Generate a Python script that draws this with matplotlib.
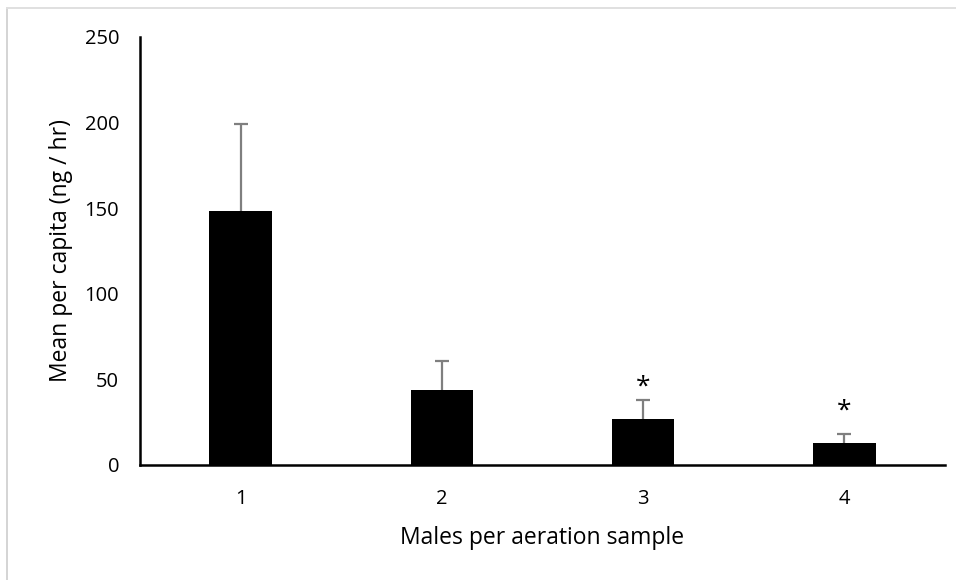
import matplotlib.pyplot as plt
from matplotlib.lines import Line2D

categories = ["1", "2", "3", "4"]
means = [148.5, 44, 27, 13]
upper_err = [50.5, 16.5, 11, 5]
stars = ["", "", "*", "*"]
star_heights = [0, 0, 45.5, 31.5]

plt.rcParams['font.family'] = ['Open Sans', 'DejaVu Sans']

fig = plt.figure(figsize=(9.56, 5.8), dpi=100)
ax = fig.add_axes([140/956, 115/580, 805/956, 428/580])

x = list(range(1, len(categories) + 1))
ax.bar(x, means, width=0.31, color="black", zorder=2)
_, caps, _ = ax.errorbar(x, means, yerr=[[0]*len(means), upper_err], fmt="none",
                         ecolor="#7f7f7f", elinewidth=1.6, capsize=4.7,
                         capthick=1.6, zorder=1)
caps[0].set_visible(False)  # no cap at the bar top

for xi, h, s in zip(x, star_heights, stars):
    if s:
        ax.text(xi, h, s, ha="center", va="center", fontsize=19)

ax.set_xlim(0.5, 4.5)
ax.set_ylim(0, 250)
ax.set_yticks([0, 50, 100, 150, 200, 250])
ax.set_xticks(x)
ax.set_xticklabels(categories)
ax.tick_params(axis="both", length=0, labelsize=14.5)
ax.tick_params(axis="y", pad=15)
ax.tick_params(axis="x", pad=17)
for sp in ["top", "right"]:
    ax.spines[sp].set_visible(False)
for sp in ["left", "bottom"]:
    ax.spines[sp].set_linewidth(1.8)

ax.set_xlabel("Males per aeration sample", fontsize=16.5)
ax.xaxis.label.set_va("baseline")
ax.xaxis.set_label_coords(0.5, (465 - 544) / 428)
ax.set_ylabel("Mean per capita (ng / hr)", fontsize=16.5)
ax.yaxis.label.set_va("center")
ax.yaxis.set_label_coords((61 - 140) / 805, 0.5)

# light frame around the figure
fig.add_artist(Line2D([7/956, 7/956], [0, 1 - 8/580], color="#d4d4d4", lw=1.4))
fig.add_artist(Line2D([7/956, 1], [1 - 8/580, 1 - 8/580], color="#e0e0e0", lw=1.4))

fig.savefig("out.png", dpi=100)
